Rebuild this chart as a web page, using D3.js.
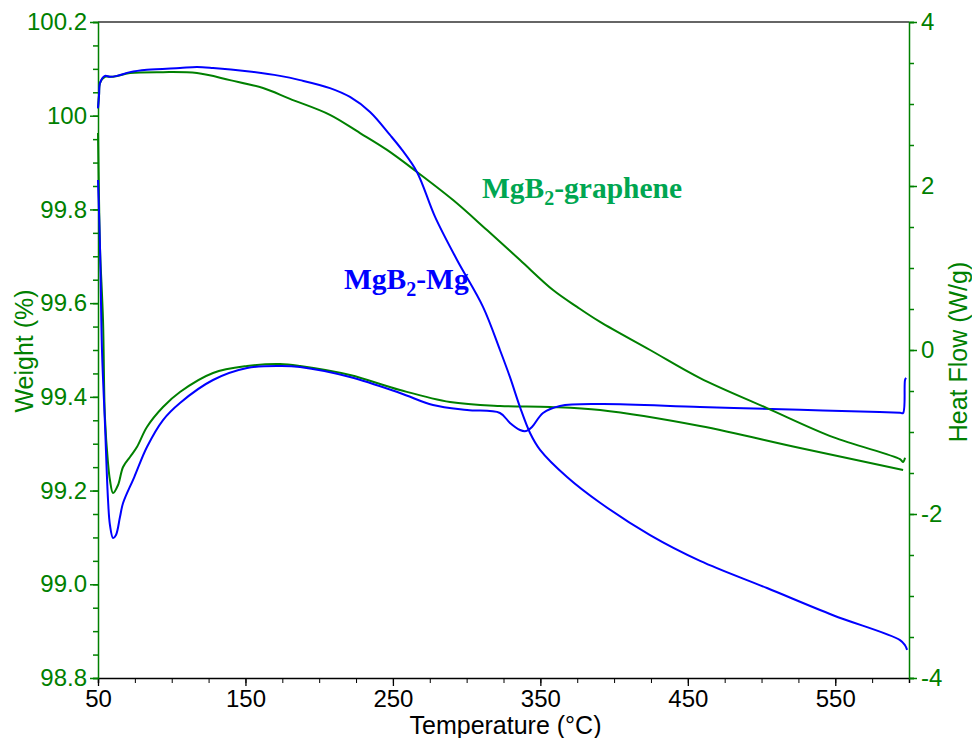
<!DOCTYPE html>
<html>
<head>
<meta charset="utf-8">
<script src="https://cdn.jsdelivr.net/npm/d3@7"></script>
<style>
  body { margin: 0; background: #fff; }
  svg { display: block; font-family: "Liberation Sans", Arial, sans-serif; }
</style>
</head>
<body>
<div id="chart"></div>
<script>
// temperature (°C), weight (%) -- TGA
const tgaMg = [
  [50, 100.016], [50.7, 100.044], [51.4, 100.07], [54.7, 100.085], [58.1, 100.083],
  [62.9, 100.085], [71.7, 100.093], [83.2, 100.098], [105.6, 100.102], [117.1, 100.104],
  [128, 100.102], [151.1, 100.095], [173.4, 100.085], [187, 100.076], [207.3, 100.059],
  [220.9, 100.04], [234.5, 100.008], [248, 99.959], [256.2, 99.927], [266.3, 99.88],
  [278.6, 99.784], [293.5, 99.692], [311.1, 99.592], [322.6, 99.5], [329.4, 99.442],
  [336.2, 99.378], [343, 99.323], [349.8, 99.287], [368.1, 99.229], [390.5, 99.174],
  [424.4, 99.105], [458.3, 99.05], [503.7, 98.992], [548.5, 98.934],
  [593.9, 98.881], [597.3, 98.87], [598.7, 98.86]
];
const tgaGraphene = [
  [50, 100.016], [50.7, 100.044], [51.4, 100.07], [54.7, 100.083], [60.2, 100.083],
  [71.7, 100.091], [94.1, 100.093], [117.1, 100.091], [139.5, 100.076], [161.9, 100.059],
  [180.2, 100.036], [207.3, 100.002], [227.7, 99.963], [246, 99.927],
  [266.3, 99.88], [290.8, 99.82], [313.8, 99.756], [336.2, 99.692], [358.6, 99.628],
  [374.9, 99.592], [390.5, 99.56], [424.4, 99.5], [458.3, 99.44], [503.7, 99.376],
  [548.5, 99.314], [593.9, 99.267], [596, 99.261], [597.3, 99.27]
];
// temperature (°C), heat flow (W/g) -- DSC
const dscMg = [
  [50, 2.073], [51.4, 1.22], [52.7, 0], [54.7, -0.89], [56.8, -1.829], [58.1, -2.134],
  [60.2, -2.293], [62.2, -2.256], [64.9, -2.037], [67, -1.866], [74.6, -1.549],
  [83.2, -1.183], [94.1, -0.854], [105.6, -0.646], [128, -0.366],
  [151.1, -0.22], [173.4, -0.195], [187, -0.207], [220.9, -0.329], [254.8, -0.524],
  [277.2, -0.671], [300.3, -0.732], [322.6, -0.768], [329.4, -0.89], [336.2, -0.976],
  [340.3, -0.988], [344.3, -0.939], [351.8, -0.768], [363.3, -0.683], [390.5, -0.659],
  [458.3, -0.695], [526.1, -0.73], [580, -0.757], [594, -0.766], [596, -0.768],
  [597.3, -0.366], [598, -0.341]
];
const dscGraphene = [
  [50, 2.646], [50.7, 1.829], [51.4, 1.22], [53.4, 0.366], [54.7, -0.817], [56.8, -1.378],
  [58.1, -1.585], [60.2, -1.744], [63.6, -1.646], [67, -1.427], [71.7, -1.305],
  [76.4, -1.183], [83.2, -0.939], [94.1, -0.695], [105.6, -0.512], [128, -0.28],
  [151.1, -0.195], [173.4, -0.171], [187, -0.195], [220.9, -0.305], [254.8, -0.488],
  [288.7, -0.634], [322.6, -0.683], [356.5, -0.695], [390.5, -0.732], [458.3, -0.927],
  [526.1, -1.195], [596, -1.463]
];

const xTicks = [50, 150, 250, 350, 450, 550];
const weightTicks = [98.8, 99.0, 99.2, 99.4, 99.6, 99.8, 100, 100.2];
const weightLabels = ["98.8", "99.0", "99.2", "99.4", "99.6", "99.8", "100", "100.2"];
const heatTicks = [-4, -2, 0, 2, 4];

const width = 972, height = 738;
const margin = { left: 98, right: 909, top: 22, bottom: 678 };
const green = "#008000", blue = "#0000ff";

const x = d3.scaleLinear().domain([50, 600]).range([margin.left, margin.right]);
const yW = d3.scaleLinear().domain([98.8, 100.2]).range([margin.bottom, margin.top]);
const yH = d3.scaleLinear().domain([-4, 4]).range([margin.bottom, margin.top]);

const svg = d3.select("#chart").append("svg")
  .attr("width", width)
  .attr("height", height);

// frame top line
svg.append("line")
  .attr("x1", margin.left).attr("x2", margin.right)
  .attr("y1", margin.top).attr("y2", margin.top)
  .attr("stroke", "#333").attr("stroke-width", 1.5);

// bottom axis: minor ticks every 25, labels every 100
svg.append("g")
  .attr("transform", "translate(0," + margin.bottom + ")")
  .call(d3.axisBottom(x).tickValues(d3.range(50, 601, 25)).tickSize(5).tickFormat(""))
  .call(g => g.select(".domain").attr("stroke", "#000").attr("stroke-width", 1.5));
svg.append("g")
  .attr("transform", "translate(0," + margin.bottom + ")")
  .call(d3.axisBottom(x).tickValues(xTicks).tickSize(8).tickPadding(4).tickFormat(d3.format("d")))
  .call(g => g.select(".domain").remove())
  .call(g => g.selectAll("line").attr("stroke-width", 1.3))
  .call(g => g.selectAll("text").attr("font-size", 24).attr("fill", "#000")
    .attr("font-family", "Liberation Sans, Arial, sans-serif"));

// left axis (weight)
svg.append("g")
  .attr("transform", "translate(" + margin.left + ",0)")
  .call(d3.axisLeft(yW).tickValues(d3.range(0, 29).map(i => 98.8 + i * 0.05)).tickSize(5).tickFormat(""))
  .call(g => g.selectAll("line,path").attr("stroke", green).attr("stroke-width", 1.5));
svg.append("g")
  .attr("transform", "translate(" + margin.left + ",0)")
  .call(d3.axisLeft(yW).tickValues(weightTicks).tickSize(8).tickPadding(3)
    .tickFormat((d, i) => weightLabels[i]))
  .call(g => g.select(".domain").remove())
  .call(g => g.selectAll("line").attr("stroke", green).attr("stroke-width", 1.5))
  .call(g => g.selectAll("text").attr("font-size", 24).attr("fill", green)
    .attr("font-family", "Liberation Sans, Arial, sans-serif"));

// right axis (heat flow)
svg.append("g")
  .attr("transform", "translate(" + margin.right + ",0)")
  .call(d3.axisRight(yH).tickValues(d3.range(-4, 4.01, 0.5)).tickSize(5).tickFormat(""))
  .call(g => g.selectAll("line,path").attr("stroke", green).attr("stroke-width", 1.5));
svg.append("g")
  .attr("transform", "translate(" + margin.right + ",0)")
  .call(d3.axisRight(yH).tickValues(heatTicks).tickSize(8).tickPadding(4).tickFormat(d => d < 0 ? "-" + Math.abs(d) : d))
  .call(g => g.select(".domain").remove())
  .call(g => g.selectAll("line").attr("stroke", green).attr("stroke-width", 1.5))
  .call(g => g.selectAll("text").attr("font-size", 24).attr("fill", green)
    .attr("font-family", "Liberation Sans, Arial, sans-serif"));

// axis titles
svg.append("text")
  .attr("x", (margin.left + margin.right) / 2 + 2).attr("y", 734)
  .attr("text-anchor", "middle")
  .attr("font-size", 25)
  .text("Temperature (°C)");
svg.append("text")
  .attr("transform", "translate(33,351) rotate(-90)")
  .attr("text-anchor", "middle")
  .attr("font-size", 25)
  .attr("fill", green)
  .text("Weight (%)");
svg.append("text")
  .attr("transform", "translate(967,352) rotate(-90)")
  .attr("text-anchor", "middle")
  .attr("font-size", 25)
  .attr("fill", green)
  .text("Heat Flow (W/g)");

// curves
const lineW = d3.line().x(d => x(d[0])).y(d => yW(d[1])).curve(d3.curveCatmullRom.alpha(0.5));
const lineH = d3.line().x(d => x(d[0])).y(d => yH(d[1])).curve(d3.curveCatmullRom.alpha(0.5));

const curves = [
  { data: dscGraphene, line: lineH, color: green },
  { data: dscMg, line: lineH, color: blue },
  { data: tgaGraphene, line: lineW, color: green },
  { data: tgaMg, line: lineW, color: blue }
];
svg.append("g").selectAll("path")
  .data(curves)
  .enter().append("path")
  .attr("d", d => d.line(d.data))
  .attr("fill", "none")
  .attr("stroke", d => d.color)
  .attr("stroke-width", 2)
  .attr("stroke-linejoin", "round");

// labels
function label(txt, sub, rest, px, py, color) {
  const t = svg.append("text")
    .attr("x", px).attr("y", py)
    .attr("font-family", "Liberation Serif, Times New Roman, serif")
    .attr("font-weight", "bold")
    .attr("font-size", 29.5)
    .attr("fill", color);
  t.append("tspan").text(txt);
  t.append("tspan").attr("font-size", 20).attr("dy", 7).text(sub);
  t.append("tspan").attr("dy", -7).text(rest);
}
label("MgB", "2", "-graphene", 482, 198, "#00a651");
label("MgB", "2", "-Mg", 344, 289, blue);
</script>
</body>
</html>
